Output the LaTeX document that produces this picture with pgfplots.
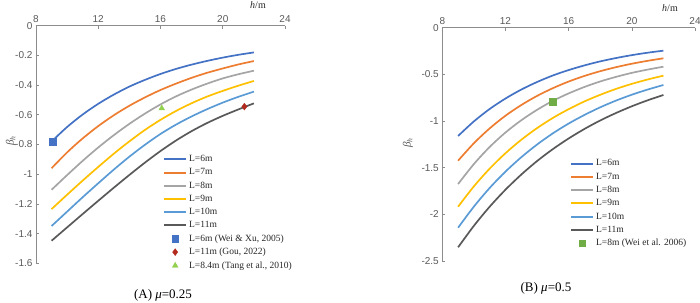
\documentclass[border=0pt]{standalone}
\usepackage{fontspec}
\setmainfont{Liberation Serif}
\setsansfont{Liberation Sans}
\usepackage{pgfplots}
\usepackage{pgfplotstable}
\pgfplotsset{compat=1.18}

\definecolor{cSix}{HTML}{4472C4}
\definecolor{cSeven}{HTML}{ED7D31}
\definecolor{cEight}{HTML}{A5A5A5}
\definecolor{cNine}{HTML}{FFC000}
\definecolor{cTen}{HTML}{5B9BD5}
\definecolor{cEleven}{HTML}{595959}
\definecolor{cRed}{HTML}{B22A1E}
\definecolor{cLime}{HTML}{92D050}
\definecolor{cGreen}{HTML}{70AD47}
\definecolor{axisgray}{HTML}{8C8C8C}
\definecolor{labelgray}{HTML}{595959}

% beta_h against h, friction coefficient 0.25
\pgfplotstableread{
h   L6     L7     L8     L9     L10    L11
9   -0.780 -0.960 -1.105 -1.235 -1.349 -1.448
10  -0.682 -0.853 -1.006 -1.138 -1.252 -1.358
11  -0.598 -0.759 -0.910 -1.043 -1.155 -1.268
12  -0.526 -0.676 -0.820 -0.951 -1.061 -1.179
13  -0.464 -0.603 -0.737 -0.862 -0.969 -1.091
14  -0.410 -0.539 -0.661 -0.779 -0.882 -1.005
15  -0.365 -0.483 -0.592 -0.702 -0.802 -0.922
16  -0.325 -0.433 -0.530 -0.634 -0.729 -0.844
17  -0.291 -0.390 -0.476 -0.574 -0.666 -0.773
18  -0.262 -0.351 -0.430 -0.522 -0.611 -0.710
19  -0.237 -0.317 -0.390 -0.477 -0.562 -0.655
20  -0.215 -0.288 -0.355 -0.439 -0.518 -0.607
21  -0.196 -0.261 -0.327 -0.404 -0.479 -0.564
22  -0.180 -0.238 -0.303 -0.372 -0.444 -0.523
}\tabA

% beta_h against h, friction coefficient 0.5
\pgfplotstableread{
h   L6     L7     L8     L9     L10    L11
9   -1.160 -1.425 -1.675 -1.918 -2.143 -2.353
10  -1.004 -1.238 -1.461 -1.700 -1.917 -2.123
11  -0.871 -1.079 -1.278 -1.510 -1.717 -1.918
12  -0.759 -0.943 -1.123 -1.345 -1.542 -1.736
13  -0.663 -0.829 -0.992 -1.201 -1.388 -1.574
14  -0.582 -0.731 -0.880 -1.076 -1.252 -1.429
15  -0.512 -0.648 -0.784 -0.967 -1.132 -1.301
16  -0.454 -0.577 -0.704 -0.873 -1.027 -1.187
17  -0.404 -0.517 -0.635 -0.790 -0.935 -1.085
18  -0.361 -0.466 -0.576 -0.719 -0.853 -0.994
19  -0.325 -0.423 -0.527 -0.656 -0.781 -0.914
20  -0.294 -0.386 -0.484 -0.602 -0.718 -0.842
21  -0.268 -0.355 -0.449 -0.555 -0.663 -0.778
22  -0.246 -0.328 -0.418 -0.514 -0.614 -0.721
}\tabB

\pgfplotsset{
  curve/.style={line width=1.7pt, smooth, no marks,
    legend image code/.code={%
      \draw[#1, line width=2pt] (0pt,0pt) -- (22pt,0pt);}},
  panel/.style={
    scale only axis,
    axis x line*=top, axis y line*=left,
    xmin=8, xmax=24, xtick={8,12,16,20,24},
    tick align=inside, major tick length=3pt,
    axis line style={draw=axisgray, line width=0.8pt},
    tick style={draw=axisgray, line width=0.6pt},
    ticklabel style={font=\sffamily\fontsize{10}{12}\selectfont, text=labelgray},
    /pgf/number format/assume math mode=true,
    clip=false,
    legend cell align=left,
    legend image code/.code={%
      \draw[mark repeat=2,mark phase=2,#1] plot coordinates {(0pt,0pt) (11pt,0pt) (22pt,0pt)};},
  },
}

\begin{document}
\begin{tikzpicture}
\useasboundingbox (0pt,0pt) rectangle (700pt,302pt);

% ---------- panel A ----------
\begin{axis}[panel,
  at={(36pt,38.7pt)}, anchor=south west,
  width=249pt, height=237.6pt,
  ymin=-1.6, ymax=0,
  ytick={-1.6,-1.4,-1.2,-1,-0.8,-0.6,-0.4,-0.2,0},
  legend style={at={(0.51,0.463)}, anchor=north west, draw=none, fill=none,
    inner sep=0pt, row sep=1.4pt, text=black!85,
    font=\fontsize{9.5}{11}\selectfont},
]
\addplot[curve, cSix]    table[x=h, y=L6]  {\tabA};
\addlegendentry{L=6m}
\addplot[curve, cSeven]  table[x=h, y=L7]  {\tabA};
\addlegendentry{L=7m}
\addplot[curve, cEight]  table[x=h, y=L8]  {\tabA};
\addlegendentry{L=8m}
\addplot[curve, cNine]   table[x=h, y=L9]  {\tabA};
\addlegendentry{L=9m}
\addplot[curve, cTen]    table[x=h, y=L10] {\tabA};
\addlegendentry{L=10m}
\addplot[curve, cEleven] table[x=h, y=L11] {\tabA};
\addlegendentry{L=11m}
\addplot[only marks, mark=square*, mark size=3.2pt, color=cSix]
  coordinates {(9.07,-0.78)};
\addlegendentry{L=6m (Wei \& Xu, 2005)}
\addplot[only marks, mark=diamond*, mark size=3.4pt, color=cRed]
  coordinates {(21.39,-0.545)};
\addlegendentry{L=11m (Gou, 2022)}
\addplot[only marks, mark=triangle*, mark size=3.3pt, color=cLime]
  coordinates {(16.08,-0.556)};
\addlegendentry{L=8.4m (Tang et al., 2010)}
\end{axis}

% ---------- panel B ----------
\begin{axis}[panel,
  at={(442.3pt,41pt)}, anchor=south west,
  width=252.7pt, height=233.3pt,
  ymin=-2.5, ymax=0,
  ytick={-2.5,-2,-1.5,-1,-0.5,0},
  legend style={at={(0.505,0.444)}, anchor=north west, draw=none, fill=none,
    inner sep=0pt, row sep=1.5pt, text=black!85,
    font=\fontsize{9.5}{11}\selectfont},
]
\addplot[curve, cSix]    table[x=h, y=L6]  {\tabB};
\addlegendentry{L=6m}
\addplot[curve, cSeven]  table[x=h, y=L7]  {\tabB};
\addlegendentry{L=7m}
\addplot[curve, cEight]  table[x=h, y=L8]  {\tabB};
\addlegendentry{L=8m}
\addplot[curve, cNine]   table[x=h, y=L9]  {\tabB};
\addlegendentry{L=9m}
\addplot[curve, cTen]    table[x=h, y=L10] {\tabB};
\addlegendentry{L=10m}
\addplot[curve, cEleven] table[x=h, y=L11] {\tabB};
\addlegendentry{L=11m}
\addplot[only marks, mark=square*, mark size=3.1pt, color=cGreen]
  coordinates {(14.99,-0.793)};
\addlegendentry{L=8m (Wei et al. 2006)}
\end{axis}

% axis titles and panel captions
\node[font=\fontsize{10}{12}\selectfont, text=black!85] at (258pt,297pt) {\textit{h}/m};
\node[font=\fontsize{10}{12}\selectfont, text=black!85] at (670pt,293.7pt) {\textit{h}/m};
\node[rotate=90, font=\fontsize{11}{13}\selectfont, text=labelgray] at (11pt,161pt) {\textit{β}\textsubscript{\textit{h}}};
\node[rotate=90, font=\fontsize{11}{13}\selectfont, text=labelgray] at (408pt,159pt) {\textit{β}\textsubscript{\textit{h}}};
\node[font=\fontsize{13}{15}\selectfont] at (163pt,7pt) {(A) \textit{μ}=0.25};
\node[font=\fontsize{13}{15}\selectfont] at (546pt,13.7pt) {(B) \textit{μ}=0.5};
\end{tikzpicture}
\end{document}
